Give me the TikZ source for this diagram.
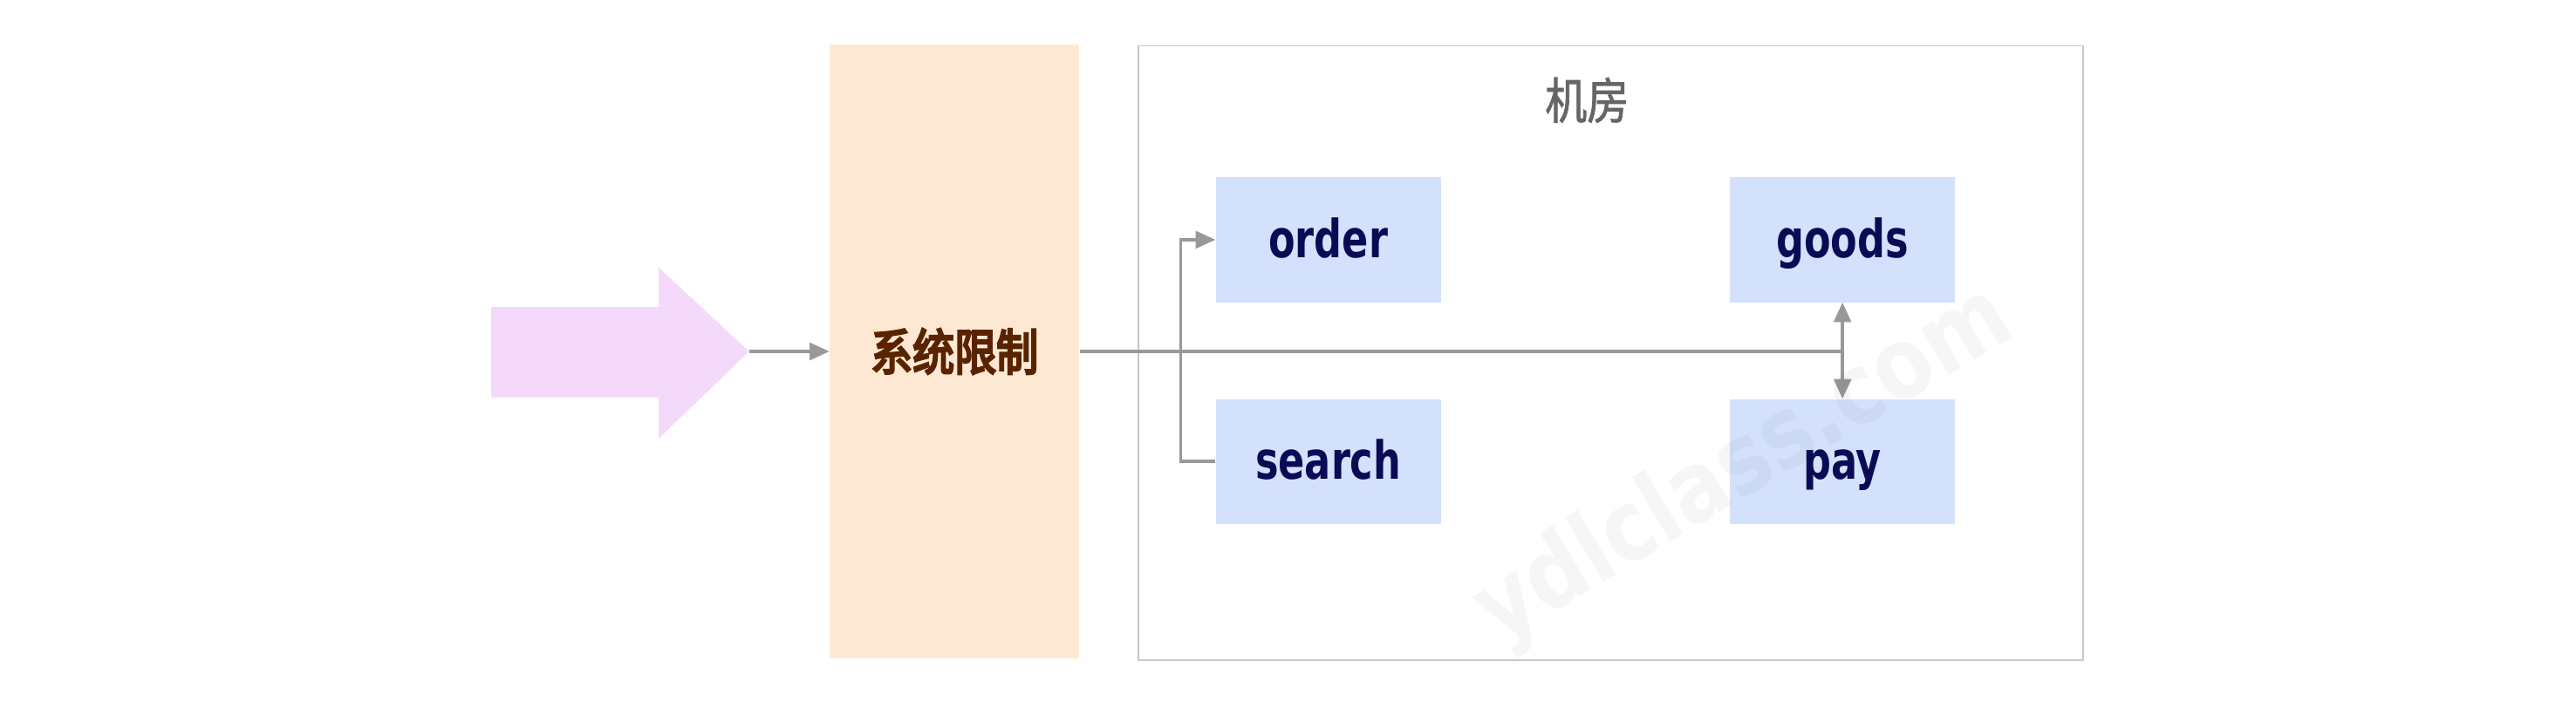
\documentclass[tikz,border=0pt]{standalone}
\usepackage{fontspec}
\setmainfont{DejaVu Sans}
\newfontfamily\cjkb{Noto Sans CJK SC}[FakeBold=5]
\newfontfamily\cjkm{Noto Sans CJK SC}[FakeBold=1.5]
\usetikzlibrary{arrows.meta}
\definecolor{pinkarrow}{HTML}{F5D9FB}
\definecolor{orangebox}{HTML}{FDE9D3}
\definecolor{browntext}{HTML}{5A2300}
\definecolor{bluebox}{HTML}{D4E1FC}
\definecolor{navytext}{HTML}{0B0B55}
\definecolor{linegray}{HTML}{999999}
\definecolor{framegray}{HTML}{C8C8C8}
\definecolor{labelgray}{HTML}{666666}
\newcommand\sq[1]{\scalebox{0.85}[1]{#1}}
\newcommand\lsq[1]{\scalebox{0.74}[1]{#1}}
\tikzset{
  svc/.style={fill=bluebox, draw=none, minimum width=137pt, minimum height=76pt, inner sep=0pt,
    font=\fontsize{32}{34}\selectfont\bfseries, text=navytext, text height=25pt, text depth=3pt},
  conn/.style={draw=linegray, line width=1.8pt},
  tip/.style={-{Triangle[length=12pt,width=10.5pt]}},
}
\begin{document}
\begin{tikzpicture}[x=1pt,y=1pt]
\useasboundingbox (0,0) rectangle (1568,427);
\fill[white] (0,0) rectangle (1568,427);
% big pink arrow
\fill[pinkarrow] (299,240) -- (401,240) -- (401,264) -- (456,213) -- (401,160) -- (401,185) -- (299,185) -- cycle;
\coordinate (tipin) at (456,213);
% system limit box
\node[fill=orangebox, minimum width=152pt, minimum height=374pt, inner sep=0pt,
  font=\cjkb\fontsize{30}{32}\selectfont, text=browntext] (sys) at (581,213) {\sq{系统限制}};
% room frame
\node[draw=framegray, line width=0.8pt, fill=white, minimum width=575pt, minimum height=374pt, inner sep=0pt] (room) at (980.5,212) {};
\node[font=\cjkm\fontsize{30}{32}\selectfont, text=labelgray] (roomlabel) at (966,366) {\sq{机房}};
% services
\node[svc] (order) at (808.5,281) {\lsq{order}};
\node[svc] (goods) at (1121.5,281) {\lsq{goods}};
\node[svc] (search) at (808.5,146) {\lsq{search}};
\node[svc] (pay) at (1121.5,146) {\lsq{pay}};
% connectors
\draw[conn, tip] (tipin) -- (sys.west);
\draw[conn] (sys.east) -- (sys.east -| goods.south) coordinate (junc);
\draw[conn, tip] (junc) -- (goods.south);
\draw[conn, tip] (junc) -- (pay.north);
\draw[conn, tip] (search.west) -- ++(-21,0) |- (order.west);
% watermark
\node[rotate=31, font=\fontsize{60}{62}\selectfont\bfseries, text=black, opacity=0.035] (wm) at (1062,143) {\sq{ydlclass.com}};
\end{tikzpicture}
\end{document}
